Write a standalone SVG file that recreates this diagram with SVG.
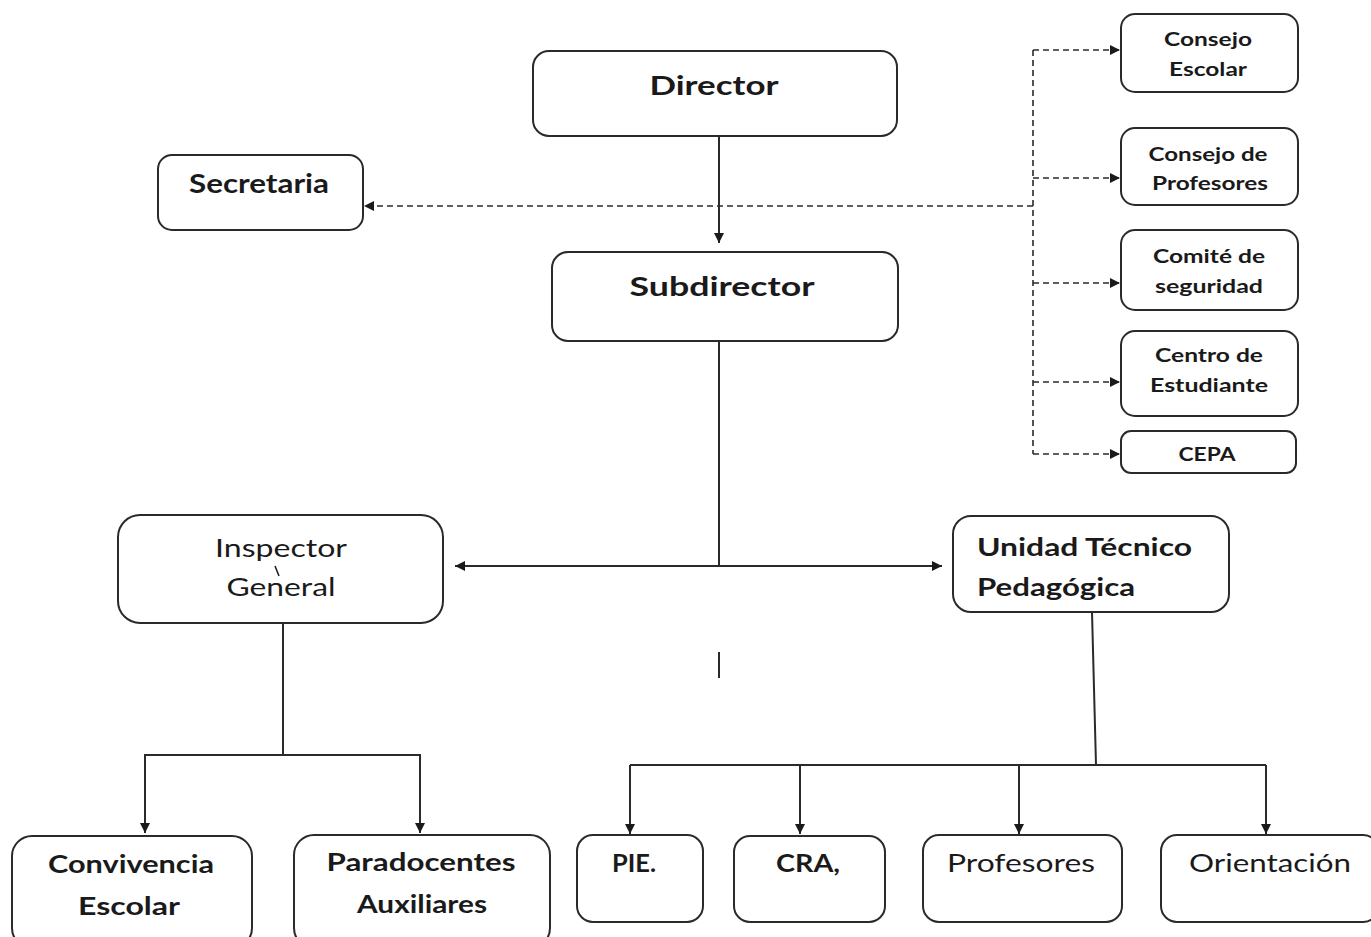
<svg xmlns="http://www.w3.org/2000/svg" width="1371" height="937" viewBox="0 0 1371 937">
<style>
.box{fill:#fff;stroke:#2a2a2a;stroke-width:2}
.t{font-family:Lato,"Open Sans","Liberation Sans",sans-serif;fill:#1a1a1a;text-anchor:middle}
.s{text-anchor:start}
.b{font-weight:bold}
.ln{fill:none;stroke:#2a2a2a;stroke-width:2}
.ds{fill:none;stroke:#2a2a2a;stroke-width:1.6;stroke-dasharray:6 4}
</style>
<defs>
<marker id="ah" viewBox="0 0 10 10" refX="10" refY="5" markerWidth="10" markerHeight="10" markerUnits="userSpaceOnUse" orient="auto">
<path d="M0,0 L10,5 L0,10 z" fill="#1a1a1a"/>
</marker>
</defs>
<rect width="1371" height="937" fill="#fff"/>
<g id="connectors">
<line class="ln" x1="719" y1="137" x2="719" y2="243" marker-end="url(#ah)"/>
<line class="ds" x1="1033" y1="206" x2="364" y2="206" marker-end="url(#ah)"/>
<line class="ds" x1="1033" y1="50" x2="1033" y2="454"/>
<line class="ds" x1="1033" y1="50" x2="1120" y2="50" marker-end="url(#ah)"/>
<line class="ds" x1="1033" y1="178" x2="1120" y2="178" marker-end="url(#ah)"/>
<line class="ds" x1="1033" y1="283" x2="1120" y2="283" marker-end="url(#ah)"/>
<line class="ds" x1="1033" y1="382" x2="1120" y2="382" marker-end="url(#ah)"/>
<line class="ds" x1="1033" y1="454" x2="1120" y2="454" marker-end="url(#ah)"/>
<line class="ln" x1="719" y1="342" x2="719" y2="566"/>
<line class="ln" x1="719" y1="566" x2="455" y2="566" marker-end="url(#ah)"/>
<line class="ln" x1="719" y1="566" x2="942" y2="566" marker-end="url(#ah)"/>
<line class="ln" x1="719" y1="652" x2="719" y2="678"/>
<line class="ln" x1="283" y1="623" x2="283" y2="755"/>
<polyline class="ln" points="145,833 145,755 420,755 420,833" marker-end="url(#ah)"/>
<line class="ln" x1="145" y1="755" x2="145" y2="833" marker-end="url(#ah)"/>
<polyline class="ln" points="1092,612 1096,765"/>
<line class="ln" x1="630" y1="765" x2="1266" y2="765"/>
<line class="ln" x1="630" y1="765" x2="630" y2="834" marker-end="url(#ah)"/>
<line class="ln" x1="800" y1="765" x2="800" y2="834" marker-end="url(#ah)"/>
<line class="ln" x1="1019" y1="765" x2="1019" y2="834" marker-end="url(#ah)"/>
<line class="ln" x1="1266" y1="765" x2="1266" y2="834" marker-end="url(#ah)"/>
</g>
<g id="director"><rect class="box" x="533" y="51" width="364" height="85" rx="16"/><text class="t b" x="714" y="95" font-size="27" textLength="129" lengthAdjust="spacingAndGlyphs">Director</text></g>
<g id="subdirector"><rect class="box" x="552" y="252" width="346" height="89" rx="16"/><text class="t b" x="722" y="296" font-size="27" textLength="185" lengthAdjust="spacingAndGlyphs">Subdirector</text></g>
<g id="secretaria"><rect class="box" x="158" y="155" width="205" height="75" rx="14"/><text class="t b" x="259" y="193" font-size="26" textLength="140" lengthAdjust="spacingAndGlyphs">Secretaria</text></g>
<g id="consejo-escolar"><rect class="box" x="1121" y="14" width="177" height="78" rx="14"/><text class="t b" x="1208" y="46" font-size="19" textLength="88" lengthAdjust="spacingAndGlyphs">Consejo</text><text class="t b" x="1208" y="76" font-size="19" textLength="78" lengthAdjust="spacingAndGlyphs">Escolar</text></g>
<g id="consejo-profesores"><rect class="box" x="1121" y="128" width="177" height="77" rx="14"/><text class="t b" x="1208" y="161" font-size="19" textLength="119" lengthAdjust="spacingAndGlyphs">Consejo de</text><text class="t b" x="1210" y="190" font-size="19" textLength="116" lengthAdjust="spacingAndGlyphs">Profesores</text></g>
<g id="comite"><rect class="box" x="1121" y="230" width="177" height="80" rx="14"/><text class="t b" x="1209" y="263" font-size="19" textLength="112" lengthAdjust="spacingAndGlyphs">Comité de</text><text class="t b" x="1209" y="293" font-size="19" textLength="108" lengthAdjust="spacingAndGlyphs">seguridad</text></g>
<g id="centro"><rect class="box" x="1121" y="331" width="177" height="85" rx="14"/><text class="t b" x="1209" y="362" font-size="19" textLength="108" lengthAdjust="spacingAndGlyphs">Centro de</text><text class="t b" x="1209" y="392" font-size="19" textLength="118" lengthAdjust="spacingAndGlyphs">Estudiante</text></g>
<g id="cepa"><rect class="box" x="1121" y="431" width="175" height="42" rx="10"/><text class="t b" x="1207" y="461" font-size="19" textLength="57" lengthAdjust="spacingAndGlyphs">CEPA</text></g>
<g id="inspector"><rect class="box" x="118" y="515" width="325" height="108" rx="22"/><text class="t" x="281" y="557" font-size="25" textLength="132" lengthAdjust="spacingAndGlyphs">Inspector</text><text class="t" x="281" y="596" font-size="25" textLength="109" lengthAdjust="spacingAndGlyphs">General</text><line x1="275" y1="566" x2="279" y2="576" stroke="#1a1a1a" stroke-width="1.5"/></g>
<g id="utp"><rect class="box" x="953" y="516" width="276" height="96" rx="18"/><text class="t b s" x="977" y="556" font-size="25" textLength="215" lengthAdjust="spacingAndGlyphs">Unidad Técnico</text><text class="t b s" x="977" y="596" font-size="25" textLength="158" lengthAdjust="spacingAndGlyphs">Pedagógica</text></g>
<g id="convivencia"><rect class="box" x="12" y="836" width="240" height="112" rx="20"/><text class="t b" x="131" y="873" font-size="25" textLength="166" lengthAdjust="spacingAndGlyphs">Convivencia</text><text class="t b" x="129" y="915" font-size="25" textLength="102" lengthAdjust="spacingAndGlyphs">Escolar</text></g>
<g id="paradocentes"><rect class="box" x="294" y="835" width="256" height="113" rx="20"/><text class="t b" x="421" y="871" font-size="25" textLength="189" lengthAdjust="spacingAndGlyphs">Paradocentes</text><text class="t b" x="422" y="913" font-size="25" textLength="130" lengthAdjust="spacingAndGlyphs">Auxiliares</text></g>
<g id="pie"><rect class="box" x="577" y="835" width="126" height="87" rx="16"/><text class="t b" x="634" y="872" font-size="25" textLength="44" lengthAdjust="spacingAndGlyphs">PIE.</text></g>
<g id="cra"><rect class="box" x="734" y="836" width="151" height="86" rx="16"/><text class="t b" x="808" y="872" font-size="25" textLength="64" lengthAdjust="spacingAndGlyphs">CRA,</text></g>
<g id="profesores"><rect class="box" x="923" y="835" width="199" height="87" rx="16"/><text class="t" x="1021" y="872" font-size="25" textLength="148" lengthAdjust="spacingAndGlyphs">Profesores</text></g>
<g id="orientacion"><rect class="box" x="1161" y="835" width="218" height="87" rx="16"/><text class="t" x="1270" y="872" font-size="25" textLength="162" lengthAdjust="spacingAndGlyphs">Orientación</text></g>
</svg>
